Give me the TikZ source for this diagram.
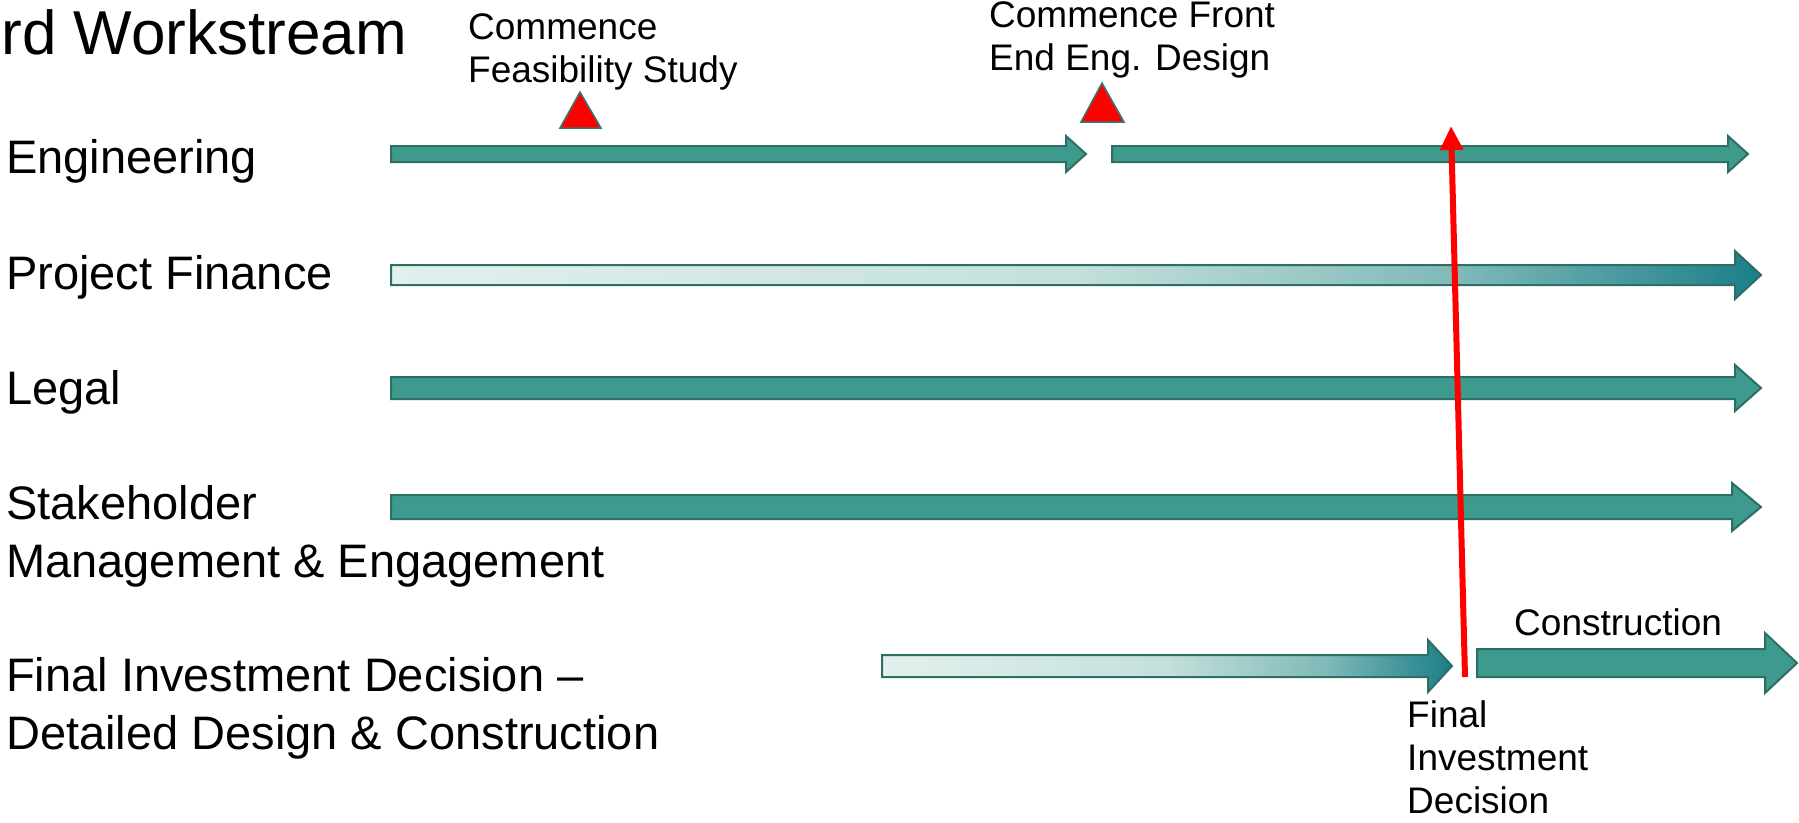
\documentclass[tikz,border=0pt]{standalone}
\usepackage{fontspec}
\setmainfont{Liberation Sans}
\usetikzlibrary{arrows.meta}

\definecolor{wsteal}{HTML}{3E9A8C}
\definecolor{wsedge}{HTML}{2D6E65}
\definecolor{wslight}{HTML}{E2F0ED}
\definecolor{wsmid}{HTML}{C4E0DB}
\definecolor{wsdeep}{HTML}{7FB9B8}
\definecolor{wsdark}{HTML}{1B7E89}
\definecolor{wsred}{HTML}{FF0000}
% tikz maps a path onto the middle half (25bp--75bp) of the shading
\pgfdeclarehorizontalshading{wsfade}{100bp}{color(0bp)=(wslight); color(25bp)=(wslight); color(50bp)=(wsmid); color(64bp)=(wsdeep); color(75bp)=(wsdark); color(100bp)=(wsdark)}

\tikzset{
  wsbar/.style={draw=wsedge, line width=2pt, line join=miter, fill=wsteal},
  wsfaded/.style={wsbar, shading=wsfade},
  milestone/.style={draw=wsteal!80!black, line width=1.5pt, fill=wsred, line join=miter},
  rowlabel/.style={anchor=base west, inner sep=0pt, align=left, font=\fontsize{47}{58}\selectfont},
  notelabel/.style={anchor=base west, inner sep=0pt, align=left, font=\fontsize{37}{43}\selectfont},
  fidline/.style={draw=wsred, line width=6pt, -{Triangle[length=24pt,width=22pt]}}
}

% block arrow: [style] start, tip, centre y, shaft half, head half, head length
\newcommand{\wsarrow}[7][wsbar]{%
  \path[#1] (#2,#4-#5) -- (#3-#7,#4-#5) -- (#3-#7,#4-#6) -- (#3,#4)
    -- (#3-#7,#4+#6) -- (#3-#7,#4+#5) -- (#2,#4+#5) -- cycle;}

\begin{document}
\begin{tikzpicture}[x=1pt, y=-1pt]
  \useasboundingbox (0,0) rectangle (1799,822);

  % title and row labels (multi-line nodes sit on their last baseline)
  \node[anchor=base east, inner sep=0pt, font=\fontsize{62}{70}\selectfont] (title) at (407,54) {rd Workstream};
  \node[rowlabel] (eng) at (6,173) {Engineering};
  \node[rowlabel] (fin) at (6,289) {Project Finance};
  \node[rowlabel] (legal) at (6,404) {Legal};
  \node[rowlabel] (stake) at (6,577) {Stakeholder\\Management \& Engagement};
  \node[rowlabel] (fid) at (6,749) {Final Investment Decision --\\Detailed Design \& Construction};

  % work streams
  \wsarrow{391}{1086}{154}{8}{18}{20}
  \wsarrow{1112}{1748}{154}{8}{18}{20}
  \wsarrow[wsfaded]{391}{1761}{275}{10}{24}{26}
  \wsarrow{391}{1761}{388}{11}{23}{26}
  \wsarrow{391}{1761}{507}{12}{24}{29}
  \wsarrow[wsfaded]{882}{1452}{666}{11}{26}{24}
  \wsarrow{1477}{1797}{663}{14}{30}{32}

  % milestones
  \draw[milestone] (580,92) -- (601,128) -- (560,128) -- cycle;
  \draw[milestone] (1102,83) -- (1124,122) -- (1081,122) -- cycle;
  \node[notelabel] (feas) at (468,82) {Commence\\Feasibility Study};
  \node[notelabel] (feed) at (989,70) {Commence Front\\End Eng. Design};
  \node[notelabel] (build) at (1514,635) {Construction};
  \node[notelabel] (fidnote) at (1407,813) {Final\\Investment\\Decision};

  % decision marker
  \coordinate (fidfoot) at (1465,677);
  \coordinate (fidtop) at (1451,126);
  \draw[fidline] (fidfoot) -- (fidtop);
\end{tikzpicture}
\end{document}
